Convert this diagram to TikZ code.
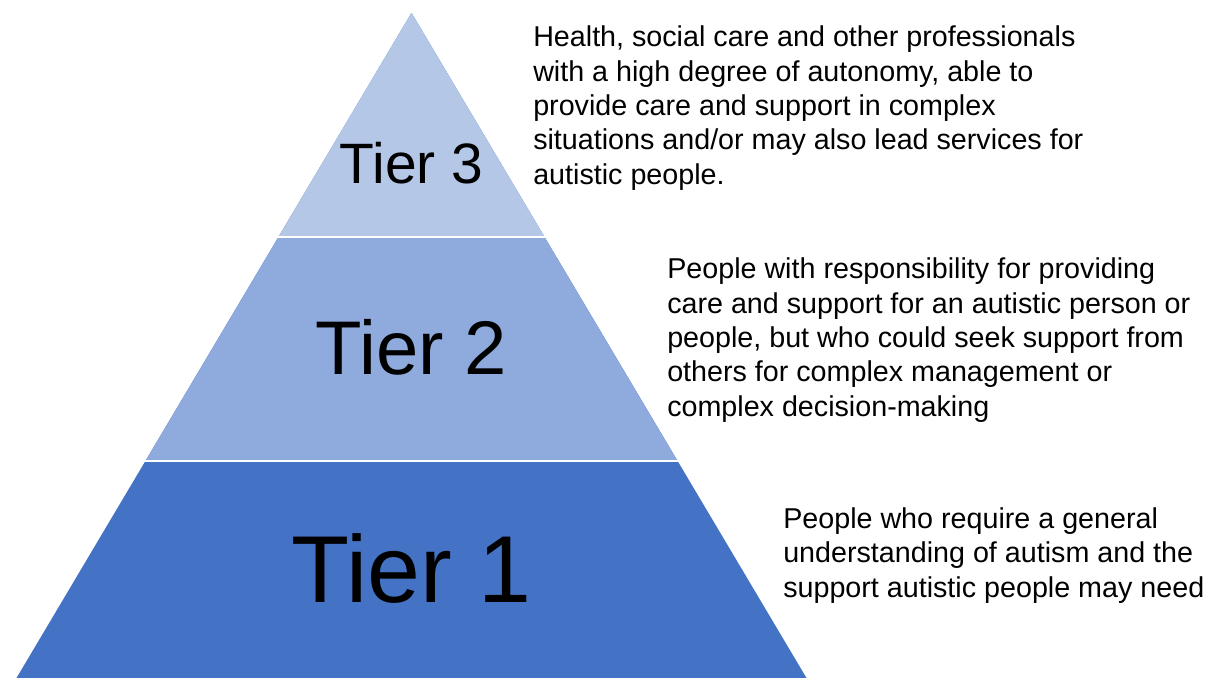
\documentclass[tikz,border=0pt]{standalone}
\usepackage{fontspec}
\setmainfont{Liberation Sans}
\definecolor{tierone}{HTML}{4472C4}
\definecolor{tiertwo}{HTML}{8FAADC}
\definecolor{tierthree}{HTML}{B4C7E7}
\begin{document}
\begin{tikzpicture}[x=0.025cm,y=-0.025cm,
    tierlabel/.style={anchor=base,inner sep=0pt},
    desc/.style={anchor=base west,inner sep=0pt,align=left,
      font=\fontsize{20.4}{24.4}\selectfont}]
     \useasboundingbox[fill=white] (0,0) rectangle (1218,678);

     \coordinate (apex) at (411.5,13);
     \coordinate (bl) at (16.5,678);
     \coordinate (br) at (806.5,678);

     % the three tiers, top ones painted over the bottom one
     \fill[tierone] (apex) -- (bl) -- (br) -- cycle;
     \fill[tiertwo] (apex) -- (145.5,461) -- (677.5,461) -- cycle;
     \fill[tierthree] (apex) -- (278.5,237) -- (544.5,237) -- cycle;
     \draw[white,line width=0.05cm] (276,237) -- (547,237);
     \draw[white,line width=0.05cm] (143,461) -- (680,461);

     \node[tierlabel,font=\fontsize{40.5}{48}\selectfont] (tier3) at (411.5,183) {Tier 3};
     \node[tierlabel,font=\fontsize{54.1}{64}\selectfont] (tier2) at (411.5,374) {Tier 2};
     \node[tierlabel,font=\fontsize{67.6}{80}\selectfont] (tier1) at (411.5,602) {Tier 1};

     % descriptions, anchored at the baseline of their last line
     \node[desc] (desc3) at (533,184) {Health, social care and other professionals\\
       with a high degree of autonomy, able to\\
       provide care and support in complex\\
       situations and/or may also lead services for\\
       autistic people.};
     \node[desc] (desc2) at (667,416) {People with responsibility for providing\\
       care and support for an autistic person or\\
       people, but who could seek support from\\
       others for complex management or\\
       complex decision-making};
     \node[desc] (desc1) at (783,597) {People who require a general\\
       understanding of autism and the\\
       support autistic people may need};
\end{tikzpicture}
\end{document}
